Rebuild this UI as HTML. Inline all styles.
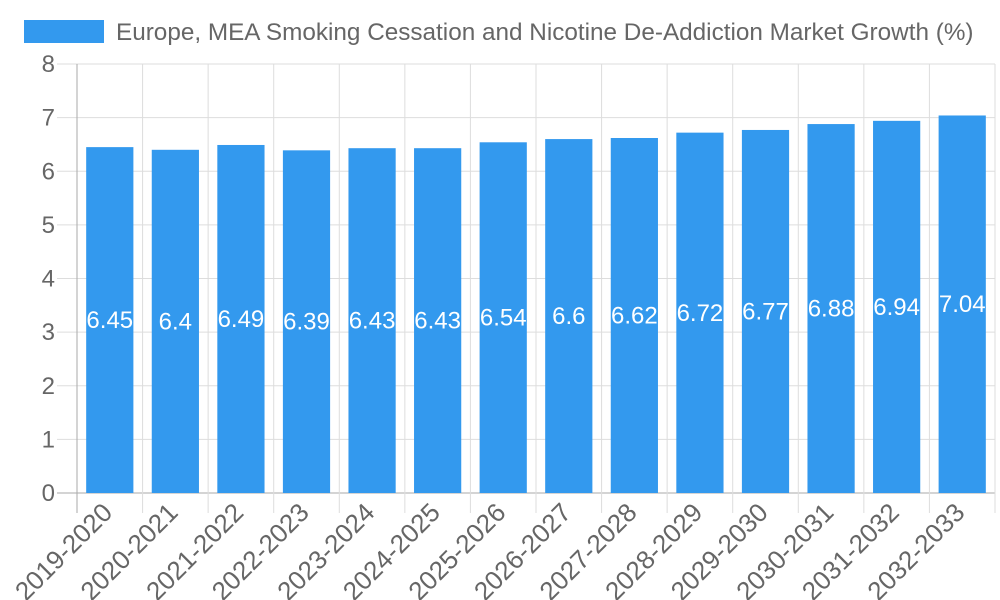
<!DOCTYPE html>
<html><head><meta charset="utf-8"><style>
body{margin:0;background:#fff;}
svg{display:block;font-family:"Liberation Sans",sans-serif;}
</style></head><body>
<svg id="c" width="1000" height="600">
<rect x="24" y="20" width="80" height="23" fill="#3399ee"/>
<text x="116" y="40" font-size="24.3" fill="#666">Europe, MEA Smoking Cessation and Nicotine De-Addiction Market Growth (%)</text>
</svg>
<script>
const categories=["2019-2020","2020-2021","2021-2022","2022-2023","2023-2024","2024-2025","2025-2026","2026-2027","2027-2028","2028-2029","2029-2030","2030-2031","2031-2032","2032-2033"];
const values=[6.45,6.4,6.49,6.39,6.43,6.43,6.54,6.6,6.62,6.72,6.77,6.88,6.94,7.04];
const yTicks=[0,1,2,3,4,5,6,7,8];
const svg=document.getElementById('c');
const NS='http://www.w3.org/2000/svg';
const L=77,R=995,T=64,B=493,yMax=8;
const step=(R-L)/categories.length;
const y=v=>B-(v/yMax)*(B-T);
const x=i=>L+step*i;
function mk(t,a,p){const e=document.createElementNS(NS,t);for(const k in a)e.setAttribute(k,a[k]);(p||svg).appendChild(e);return e;}
yTicks.forEach(t=>{
 const g=mk('line',{x1:57,x2:R,y1:y(t),y2:y(t),stroke:t===0?'#aaa':'#ddd','stroke-width':1});
 
 
 const tx=mk('text',{x:55,y:y(t)+8,'text-anchor':'end','font-size':24,fill:'#666'});
 tx.textContent=t;
 
 
});
for(let i=0;i<=categories.length;i++){
 const g=mk('line',{x1:x(i),x2:x(i),y1:T,y2:513,stroke:i===0?'#aaa':'#ddd','stroke-width':1});
 
 
}
const bw=step*0.72;
categories.forEach((c,i)=>{
 const cx=x(i)+step/2;
 const r=mk('rect',{x:cx-bw/2,y:y(values[i]),width:bw,height:B-y(values[i]),fill:'#3399ee'});
 
 
 const v=mk('text',{x:cx,y:y(values[i]/2)+8,'text-anchor':'middle','font-size':24,fill:'#fff'});
 v.textContent=values[i];
 
 
 const lb=mk('text',{x:cx+4,y:514,'text-anchor':'end','font-size':26,fill:'#666',transform:`rotate(-45 ${cx+4} 514)`});
 lb.textContent=c;
 
 
});
</script>
</body></html>
